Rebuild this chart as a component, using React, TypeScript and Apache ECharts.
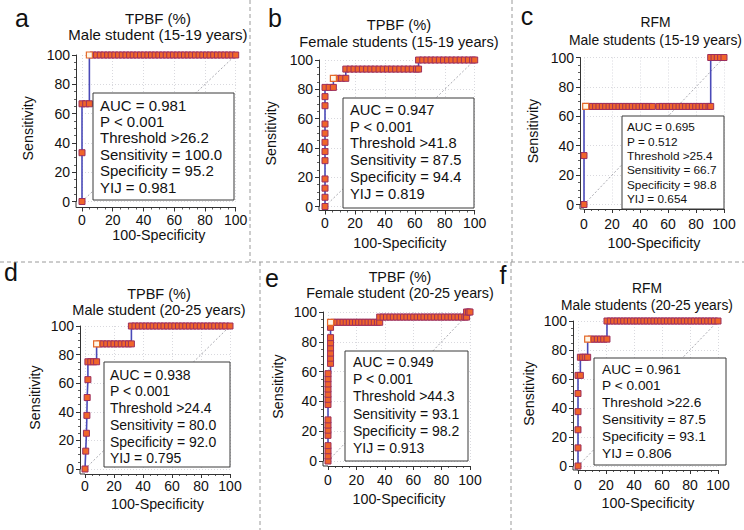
import React, { useEffect, useRef } from "react";
import * as echarts from "echarts";

type Pt = [number, number];

// ---------- texts ----------
const letters = ["a", "b", "c", "d", "e", "f"];
const titleLine1 = ["TPBF (%)", "TPBF (%)", "RFM", "TPBF (%)", "TPBF (%)", "RFM"];
const titleLine2 = [
  "Male student (15-19 years)",
  "Female students (15-19 years)",
  "Male students (15-19 years)",
  "Male student (20-25 years)",
  "Female student (20-25 years)",
  "Male students (20-25 years)",
];
const aucValues = ["0.981", "0.947", "0.695", "0.938", "0.949", "0.961"];
const pValues = ["< 0.001", "< 0.001", "= 0.512", "< 0.001", "< 0.001", "< 0.001"];
const thresholds = [">26.2", ">41.8", ">25.4", ">24.4", ">44.3", ">22.6"];
const sensitivities = ["100.0", "87.5", "66.7", "80.0", "93.1", "87.5"];
const specificities = ["95.2", "94.4", "98.8", "92.0", "98.2", "93.1"];
const yijValues = ["0.981", "0.819", "0.654", "0.795", "0.913", "0.806"];
const axisTicks = [0, 20, 40, 60, 80, 100];
const chanceLine: Pt[] = [[0, 0], [100, 100]];

// ---------- panel a ----------
const rocA: Pt[] = [[0, 0], [0, 66.7], [4.8, 66.7], [4.8, 100], [100, 100]];
const ptsA: Pt[] = [[0, 0], [0, 33.3], [0, 66.7], [2.4, 66.7], [4.8, 66.7]];
const topA = [7.1, 9.5, 11.9, 14.3, 16.7, 19.0, 21.4, 23.8, 26.2, 28.6, 31.0, 33.3, 35.7, 38.1, 40.5, 42.9, 45.2, 47.6, 50.0, 52.4, 54.8, 57.1, 59.5, 61.9, 64.3, 66.7, 69.0, 71.4, 73.8, 76.2, 78.6, 81.0, 83.3, 85.7, 88.1, 90.5, 92.9, 95.2, 97.6, 100];
const cutA: Pt = [4.8, 100];

// ---------- panel b ----------
const rocB: Pt[] = [[0, 0], [0, 81.3], [5.6, 81.3], [5.6, 87.5], [13.9, 87.5], [13.9, 93.8], [62.5, 93.8], [62.5, 100], [100, 100]];
const ptsB: Pt[] = [[0, 0], [0, 6.3], [0, 12.5], [0, 18.8], [0, 31.3], [0, 37.5], [0, 43.8], [0, 50], [0, 56.3], [0, 68.8], [0, 75], [0, 81.3], [2.8, 81.3], [5.6, 81.3], [8.3, 87.5], [11.1, 87.5], [13.9, 87.5]];
const midB = [13.9, 16.7, 19.4, 22.2, 25.0, 27.8, 30.6, 33.3, 36.1, 38.9, 41.7, 44.4, 47.2, 50.0, 52.8, 55.6, 58.3, 61.1, 62.5];
const topB = [62.5, 65.3, 68.1, 70.8, 73.6, 76.4, 79.2, 81.9, 84.7, 87.5, 90.3, 93.1, 95.8, 98.6, 100];
const cutB: Pt = [5.6, 87.5];

// ---------- panel c ----------
const rocC: Pt[] = [[0, 0], [0, 66.7], [90.5, 66.7], [90.5, 100], [100, 100]];
const ptsC: Pt[] = [[0, 0], [0, 33.3]];
const midC = [3.6, 6.0, 8.3, 10.7, 13.1, 15.5, 17.9, 20.2, 22.6, 25.0, 27.4, 29.8, 32.1, 34.5, 36.9, 39.3, 41.7, 44.0, 46.4, 48.8, 53.6, 56.0, 58.3, 60.7, 63.1, 65.5, 67.9, 70.2, 72.6, 75.0, 77.4, 79.8, 82.1, 84.5, 86.9, 89.3, 90.5];
const topC = [90.5, 92.9, 95.2, 97.6, 100];
const cutC: Pt = [1.2, 66.7];

// ---------- panel d ----------
const rocD: Pt[] = [[0, 0], [0.5, 12.5], [1, 25], [1.3, 37.5], [1.5, 50], [2, 62.5], [2, 75], [8, 75], [8, 87.5], [32, 87.5], [32, 100], [100, 100]];
const ptsD: Pt[] = [[0, 0], [0.5, 12.5], [1, 25], [1.3, 37.5], [1.5, 50], [2, 62.5], [2, 75], [4, 75], [6, 75], [8, 75]];
const midD = [10, 12.5, 15, 17.5, 20, 22.5, 25, 27.5, 30, 32];
const topD = [32, 34.5, 37, 39.5, 42, 44.5, 47, 49.5, 52, 54.5, 57, 59.5, 62, 64.5, 67, 69.5, 72, 74.5, 77, 79.5, 82, 84.5, 87, 89.5, 92, 94.5, 97, 100];
const cutD: Pt = [8, 87.5];

// ---------- panel e ----------
const rocE: Pt[] = [[0, 0], [0, 58.6], [1.8, 58.6], [1.8, 93.1], [36.4, 93.1], [36.4, 96.6], [97.6, 96.6], [97.6, 100], [100, 100]];
const ptsE: Pt[] = [[0, 0], [0, 3.4], [0, 6.9], [0, 10.3], [0, 17.2], [0, 20.7], [0, 24.1], [0, 27.6], [0, 37.9], [0, 41.4], [0, 44.8], [0, 48.3], [0, 51.7], [0, 55.2], [0, 58.6], [1.8, 65.5], [1.8, 69.0], [1.8, 72.4], [1.8, 75.9], [1.8, 79.3], [1.8, 82.8], [1.8, 89.7]];
const midE = [4.0, 6.2, 8.4, 10.6, 12.8, 15.0, 17.2, 19.4, 21.6, 23.8, 26.0, 28.2, 30.4, 32.6, 34.8, 36.4];
const highE = [36.4, 38.8, 41.2, 43.6, 46.0, 48.4, 50.8, 53.2, 55.6, 58.0, 60.4, 62.8, 65.2, 67.6, 70.0, 72.4, 74.8, 77.2, 79.6, 82.0, 84.4, 86.8, 89.2, 91.6, 94.0, 96.4, 97.6];
const topE = [97.6, 99, 100];
const cutE: Pt = [1.8, 93.1];

// ---------- panel f ----------
const rocF: Pt[] = [[0, 0], [0, 62.5], [1.7, 62.5], [1.7, 75], [6.9, 75], [6.9, 87.5], [20.7, 87.5], [20.7, 100], [100, 100]];
const ptsF: Pt[] = [[0, 0], [0, 12.5], [0, 25], [0, 37.5], [0, 50], [0, 62.5], [1.7, 62.5], [1.7, 75], [3.4, 75], [5.2, 75], [6.9, 75]];
const midF = [9.2, 11.5, 13.8, 16.1, 18.4, 20.7];
const topF = [20.7, 23.1, 25.5, 27.9, 30.3, 32.7, 35.1, 37.5, 39.9, 42.3, 44.7, 47.1, 49.5, 51.9, 54.3, 56.7, 59.1, 61.5, 63.9, 66.3, 68.7, 71.1, 73.5, 75.9, 78.3, 80.7, 83.1, 85.5, 87.9, 90.3, 92.7, 95.1, 97.5, 100];
const cutF: Pt = [6.9, 87.5];

const at = (xs: number[], y: number): Pt[] => xs.map((x) => [x, y] as Pt);

const panels = [
  { roc: rocA, pts: [...ptsA, ...at(topA, 100)], cut: cutA },
  { roc: rocB, pts: [...ptsB, ...at(midB, 93.8), ...at(topB, 100)], cut: cutB },
  { roc: rocC, pts: [...ptsC, ...at(midC, 66.7), ...at(topC, 100)], cut: cutC },
  { roc: rocD, pts: [...ptsD, ...at(midD, 87.5), ...at(topD, 100)], cut: cutD },
  { roc: rocE, pts: [...ptsE, ...at(midE, 93.1), ...at(highE, 96.6), ...at(topE, 100)], cut: cutE },
  { roc: rocF, pts: [...ptsF, ...at(midF, 87.5), ...at(topF, 100)], cut: cutF },
];

// ---------- layout (pixels) ----------
const layout = [
  { x0: 82, x1: 235.7, y1: 55, y0: 201.5, offX: 6, offY: 6, xm: 5.5, xg: 18.5, yg: 41, tx: 158, ty1: 18, ty2: 34, tf: 15, lx: 22, ly: 18, box: [93, 93, 141, 107], tl: 100, t0: 105, ts: 16.4, fs: 15 },
  { x0: 325, x1: 474.7, y1: 60, y0: 206.5, offX: 4, offY: 6, xm: 5.5, xg: 25.5, yg: 41, tx: 399, ty1: 25, ty2: 42, tf: 14.65, lx: 275, ly: 18, box: [343, 98, 131, 110], tl: 350, t0: 110, ts: 16.7, fs: 14.7 },
  { x0: 584, x1: 724, y1: 57.5, y0: 204.5, offX: 4.5, offY: 4, xm: 8, xg: 27, yg: 40, tx: 655.5, ty1: 22, ty2: 40, tf: 13.9, lx: 527, ly: 16, box: [622, 116, 102, 93], tl: 627, t0: 127.3, ts: 14.3, fs: 11.8 },
  { x0: 85, x1: 230, y1: 326, y0: 469, offX: 5, offY: 5, xm: 5, xg: 23, yg: 38, tx: 159, ty1: 294, ty2: 310, tf: 14.5, lx: 11, ly: 272, box: [104, 362, 126, 105], tl: 110, t0: 374.7, ts: 16.7, fs: 14 },
  { x0: 328, x1: 470, y1: 312, y0: 461, offX: 5, offY: 5, xm: 7, xg: 26, yg: 38, tx: 400, ty1: 277, ty2: 293, tf: 14.3, lx: 272, ly: 278, box: [345, 351, 123, 110], tl: 353, t0: 361.7, ts: 17.3, fs: 14 },
  { x0: 578, x1: 718, y1: 321, y0: 466, offX: 4, offY: 5, xm: 8, xg: 26, yg: 37, tx: 647, ty1: 288, ty2: 305, tf: 13.8, lx: 503, ly: 275, box: [594, 358, 132, 107], tl: 602, t0: 369, ts: 16.8, fs: 13.7 },
];

const FONT = '"Liberation Sans", Arial, Helvetica, sans-serif';
const AXIS = "#333";
const TXT = "#111";

function txt(text: string, x: number, y: number, size: number, align = "left") {
  return {
    type: "text",
    z: 100,
    silent: true,
    style: {
      text,
      x,
      y,
      fill: TXT,
      font: `${size}px ${FONT}`,
      textAlign: align,
      align,
      textVerticalAlign: "middle",
      verticalAlign: "middle",
    },
  };
}

function seg(x1: number, y1: number, x2: number, y2: number, stroke: string, dashed: boolean) {
  return {
    type: "line",
    z: 100,
    silent: true,
    shape: { x1, y1, x2, y2 },
    style: dashed ? { stroke, lineWidth: 1, lineDash: [4, 3] } : { stroke, lineWidth: 1 },
  };
}

function buildOption() {
  const grid: any[] = [];
  const xAxis: any[] = [];
  const yAxis: any[] = [];
  const series: any[] = [];
  const graphic: any[] = [];
  const minV = axisTicks[0];
  const maxV = axisTicks[axisTicks.length - 1];
  const step = axisTicks[1] - axisTicks[0];

  panels.forEach((p, i) => {
    const L = layout[i];
    grid.push({
      left: L.x0,
      top: L.y1,
      width: L.x1 - L.x0,
      height: L.y0 - L.y1,
      containLabel: false,
      outerBoundsMode: "none",
    });
    const common = {
      gridIndex: i,
      type: "value",
      min: minV,
      max: maxV,
      interval: step,
      axisLine: { show: true, onZero: false, lineStyle: { color: AXIS, width: 1 } },
      axisTick: { show: true, inside: false, length: 4, lineStyle: { color: AXIS, width: 1 } },
      minorTick: { show: true, splitNumber: 4, length: 2, lineStyle: { color: AXIS, width: 0.8 } },
      splitLine: { show: true, lineStyle: { color: "#cfcfd6", width: 0.8, type: [1, 2] } },
      nameLocation: "middle",
      nameTextStyle: { fontSize: 14.3, color: TXT, fontFamily: FONT },
    };
    xAxis.push({
      ...common,
      offset: L.offX,
      name: "100-Specificity",
      nameGap: L.xg,
      axisLabel: { fontSize: 14, color: TXT, fontFamily: FONT, margin: L.xm, hideOverlap: false },
    });
    yAxis.push({
      ...common,
      offset: L.offY,
      name: "Sensitivity",
      nameGap: L.yg,
      axisLabel: { fontSize: 14, color: TXT, fontFamily: FONT, margin: 6, hideOverlap: false },
    });

    series.push({
      type: "line",
      xAxisIndex: i,
      yAxisIndex: i,
      data: chanceLine,
      symbol: "none",
      silent: true,
      z: 1,
      lineStyle: { color: "#a0a0a8", width: 0.9, type: [2, 2] },
    });
    series.push({
      type: "line",
      xAxisIndex: i,
      yAxisIndex: i,
      data: p.roc,
      symbol: "none",
      silent: true,
      z: 2,
      lineStyle: { color: "#4a4ab8", width: 1.6 },
    });
    series.push({
      type: "scatter",
      xAxisIndex: i,
      yAxisIndex: i,
      data: p.pts,
      symbol: "rect",
      symbolSize: 6,
      silent: true,
      z: 3,
      itemStyle: { color: "#f0652a", borderColor: "#9c2f5e", borderWidth: 1, opacity: 1 },
    });
    series.push({
      type: "scatter",
      xAxisIndex: i,
      yAxisIndex: i,
      data: [p.cut],
      symbol: "rect",
      symbolSize: 6,
      silent: true,
      z: 4,
      itemStyle: { color: "#fff6e6", borderColor: "#e56a2a", borderWidth: 1.2, opacity: 1 },
    });

    // axis corner (axes meet below/left of the plotting area)
    const ax = L.x0 - L.offY;
    const ay = L.y0 + L.offX;
    graphic.push(seg(ax, L.y0, ax, ay, AXIS, false));
    graphic.push(seg(ax, ay, L.x0, ay, AXIS, false));

    // titles & letters
    graphic.push(txt(titleLine1[i], L.tx, L.ty1, L.tf, "center"));
    graphic.push(txt(titleLine2[i], L.tx, L.ty2, L.tf, "center"));
    graphic.push(txt(letters[i], L.lx, L.ly, 25, "center"));

    // statistics box
    const [bx, by, bw, bh] = L.box;
    graphic.push({
      type: "rect",
      z: 90,
      silent: true,
      shape: { x: bx, y: by, width: bw, height: bh },
      style: { fill: "#ffffff", stroke: "#3a3a3a", lineWidth: 1 },
    });
    const lines = [
      `AUC = ${aucValues[i]}`,
      `P ${pValues[i]}`,
      `Threshold ${thresholds[i]}`,
      `Sensitivity = ${sensitivities[i]}`,
      `Specificity = ${specificities[i]}`,
      `YIJ = ${yijValues[i]}`,
    ];
    lines.forEach((t, k) => graphic.push(txt(t, L.tl, L.t0 + k * L.ts, L.fs, "left")));
  });

  // panel dividers
  const DIV = "#9a9a9a";
  graphic.push(seg(0, 262, 744, 262, DIV, true));
  graphic.push(seg(250, 0, 250, 262, DIV, true));
  graphic.push(seg(512, 0, 512, 262, DIV, true));
  graphic.push(seg(260, 262, 260, 530, DIV, true));
  graphic.push(seg(511, 262, 511, 530, DIV, true));

  return {
    animation: false,
    backgroundColor: "#ffffff",
    textStyle: { fontFamily: FONT },
    grid,
    xAxis,
    yAxis,
    series,
    graphic: { elements: graphic },
  };
}

export default function App() {
  const ref = useRef<HTMLDivElement>(null);
  useEffect(() => {
    document.body.style.margin = "0";
    const chart = echarts.init(ref.current as HTMLDivElement, undefined, { renderer: "svg" });
    chart.setOption(buildOption() as any);
    return () => chart.dispose();
  }, []);
  return <div ref={ref} style={{ width: 744, height: 530 }} />;
}
